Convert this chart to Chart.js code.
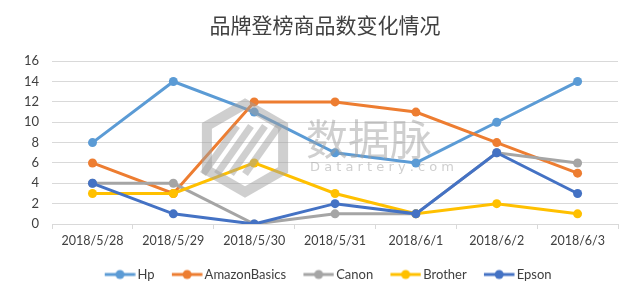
<!DOCTYPE html>
<html>
<head>
<meta charset="utf-8">
<script src="https://cdn.jsdelivr.net/npm/chart.js@4/dist/chart.umd.min.js"></script>
<style>
  html, body { margin: 0; padding: 0; background: #fff; }
  #wrap { width: 640px; height: 296px; position: relative; }
</style>
</head>
<body>
<div id="wrap"><canvas id="c"></canvas></div>
<script>
// data
const dates = ['2018/5/28', '2018/5/29', '2018/5/30', '2018/5/31', '2018/6/1', '2018/6/2', '2018/6/3'];
const hp = [8, 14, 11, 7, 6, 10, 14];
const amazonBasics = [6, 3, 12, 12, 11, 8, 5];
const canon = [4, 4, 0, 1, 1, 7, 6];
const brother = [3, 3, 6, 3, 1, 2, 1];
const epson = [4, 1, 0, 2, 1, 7, 3];
const yTicks = [0, 2, 4, 6, 8, 10, 12, 14, 16];

const baseFont = 'Lato, "Liberation Sans", Arial, sans-serif';

// line-with-dot marker for the legend, drawn right of the image centre
function legendMark(color) {
    const cv = document.createElement('canvas');
    cv.width = 42; cv.height = 12;
    const g = cv.getContext('2d');
    g.strokeStyle = color;
    g.lineWidth = 3;
    g.beginPath(); g.moveTo(11, 6); g.lineTo(41.5, 6); g.stroke();
    g.fillStyle = color;
    g.beginPath(); g.arc(26.25, 6, 4.5, 0, Math.PI * 2); g.fill();
    return cv;
}

function series(label, data, color, order) {
    return {
        label: label,
        data: data,
        borderColor: color,
        backgroundColor: color,
        borderWidth: 3,
        pointRadius: 4.5,
        pointHoverRadius: 4.5,
        pointBorderWidth: 0,
        pointStyle: 'circle',
        tension: 0,
        order: order,
        mark: legendMark(color)
    };
}

// nudge title and legend sideways like the original
const nudge = {
    id: 'nudge',
    afterLayout(chart) {
        chart.titleBlock.left += 21;
        chart.legend.left += 21;
    }
};

// faint site watermark in the middle of the plot
const watermark = {
    id: 'watermark',
    afterDatasetsDraw(chart) {
        const ctx = chart.ctx;
        ctx.save();
        ctx.globalAlpha = 0.5;
        ctx.strokeStyle = '#a0a0a0';
        ctx.fillStyle = '#a0a0a0';
        // hexagon
        const cx = 245, cy = 148, r = 44;
        ctx.lineWidth = 10;
        ctx.beginPath();
        for (let i = 0; i < 6; i++) {
            const a = Math.PI / 2 + i * Math.PI / 3;
            const x = cx + r * Math.cos(a), y = cy - r * Math.sin(a);
            if (i === 0) ctx.moveTo(x, y); else ctx.lineTo(x, y);
        }
        ctx.closePath();
        ctx.stroke();
        // stripes
        ctx.lineWidth = 7;
        for (let k = -1; k <= 2; k++) {
            ctx.beginPath();
            ctx.moveTo(cx - 28 + k * 14, cy + 26);
            ctx.lineTo(cx + 6 + k * 14, cy - 22);
            ctx.stroke();
        }
        ctx.font = '42px "Noto Sans CJK SC", sans-serif';
        ctx.textBaseline = 'middle';
        ctx.fillText('数据脉', 306, 139);
        ctx.font = '13px "DejaVu Sans", sans-serif';
        ctx.fillText('D a t a r t e r y . c o m', 310, 168);
        ctx.restore();
    }
};

const ctx = document.getElementById('c').getContext('2d');
const chart = new Chart(ctx, {
    type: 'line',
    data: {
        labels: dates,
        datasets: [
            series('Hp', hp, '#5B9BD5', 5),
            series('AmazonBasics', amazonBasics, '#ED7D31', 4),
            series('Canon', canon, '#A5A5A5', 3),
            series('Brother', brother, '#FFC000', 2),
            series('Epson', epson, '#4472C4', 1)
        ]
    },
    options: {
        responsive: true,
        maintainAspectRatio: false,
        animation: false,
        layout: { padding: { left: 11, right: 22, top: 0, bottom: 5 } },
        plugins: {
            title: {
                display: true,
                text: '品牌登榜商品数变化情况',
                color: '#404040',
                font: { family: '"Noto Sans CJK SC", sans-serif', size: 21, weight: 'normal' },
                padding: { top: 12, bottom: 24 }
            },
            legend: {
                position: 'bottom',
                labels: {
                    usePointStyle: true,
                    pointStyleWidth: 32.5,
                    color: '#404040',
                    font: { family: baseFont, size: 13 },
                    padding: 11,
                    sort: (a, b) => a.datasetIndex - b.datasetIndex,
                    generateLabels(chart) {
                        return chart.data.datasets.map((ds, i) => ({
                            text: ds.label,
                            pointStyle: ds.mark,
                            fillStyle: ds.borderColor,
                            strokeStyle: ds.borderColor,
                            fontColor: '#404040',
                            lineWidth: 0,
                            hidden: false,
                            datasetIndex: i
                        }));
                    }
                }
            },
            tooltip: { enabled: false }
        },
        scales: {
            x: {
                offset: true,
                afterFit(axis) { axis.height += 5; },
                grid: {
                    offset: true,
                    drawOnChartArea: false,
                    drawTicks: true,
                    tickLength: 5,
                    color: '#d9d9d9'
                },
                border: { color: '#d9d9d9' },
                ticks: {
                    color: '#404040',
                    font: { family: baseFont, size: 12.5 },
                    maxRotation: 0,
                    autoSkip: false,
                    padding: 4
                }
            },
            y: {
                min: 0,
                max: 16,
                afterBuildTicks(axis) { axis.ticks = yTicks.map(v => ({ value: v })); },
                grid: { color: '#d9d9d9', drawTicks: false },
                border: { display: false },
                ticks: {
                    color: '#404040',
                    font: { family: baseFont, size: 13 },
                    padding: 13
                }
            }
        }
    },
    plugins: [watermark, nudge]
});
</script>
</body>
</html>
